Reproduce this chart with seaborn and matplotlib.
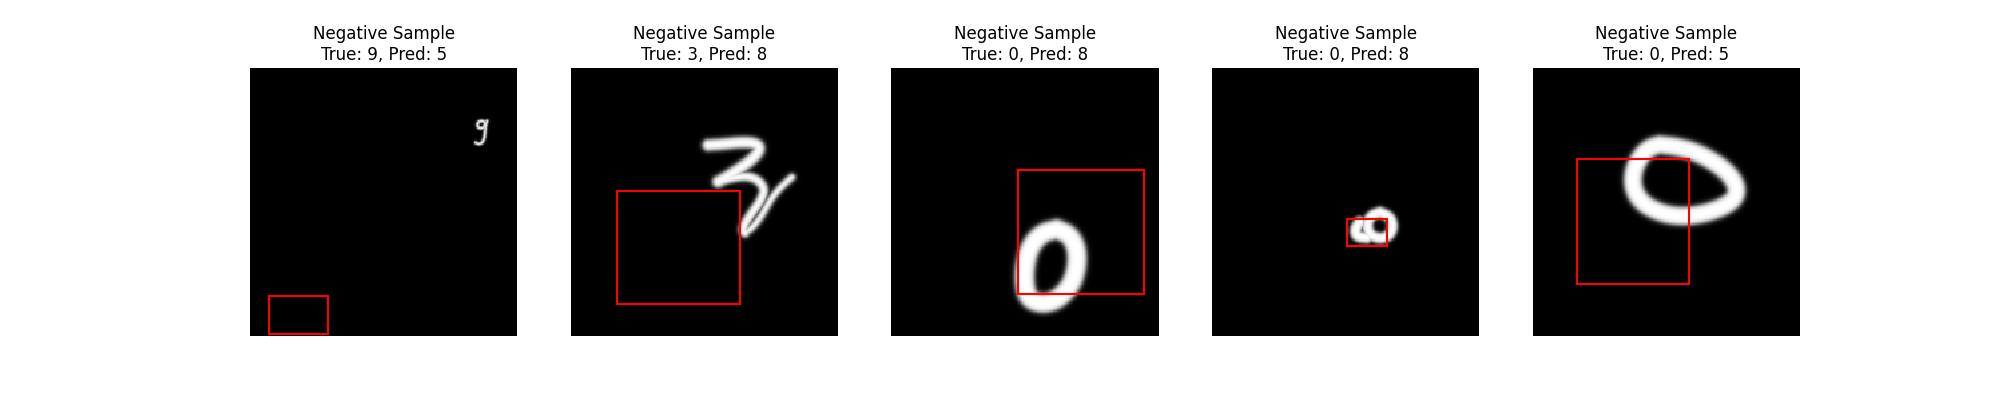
import numpy as np
import matplotlib
matplotlib.use("Agg")
import matplotlib.pyplot as plt
import matplotlib.patches as patches
import seaborn as sns

n = 200

trues = [9, 3, 0, 0, 0]
preds = [5, 8, 8, 8, 5]

# red boxes, x, y, w, h in image pixels
boxes = [
    [14, 170, 44, 29],
    [35, 92, 92, 84],
    [95, 76, 94, 93],
    [101, 113, 30, 20],
    [33, 68, 84, 93],
]

# digit strokes, centre line points in image pixels
nine_loop = [(176, 41.5), (175, 39.8), (173, 39.4), (171, 40.2), (170.2, 42.3),
             (171, 44.2), (173, 44.8), (175.2, 43.8), (176, 41.5)]
nine_tail = [(177.3, 39.5), (176.2, 43), (175.8, 48), (175.2, 52.5), (173.5, 55.8),
             (171, 56.6), (169, 55.5)]

three_top = [(103, 57.3), (114.2, 56.6), (126.7, 55.1), (138, 55.6), (142.2, 59.8),
             (136.7, 67.3), (126.7, 74.8), (116.8, 81.1), (110.5, 84.8)]
three_mid = [(110.5, 84.8), (121.7, 81.5), (132.9, 80.5), (141, 84), (145.4, 91),
             (141.7, 99.8), (136.2, 107.3), (131.2, 114.7), (128.7, 121), (130.5, 123)]
three_tail = [(128.7, 121), (130.5, 123), (135.5, 119.7), (141.7, 112.2), (146.7, 103.5),
              (150.4, 97.2), (155.4, 91), (160.4, 86), (165.4, 81.5)]

zero_a = [(123.7, 120.4), (133.7, 124.7), (139.2, 135.9), (138.7, 150.9), (133.7, 163.4),
          (123.7, 173.4), (112.5, 176.3), (102.5, 172.1), (99.5, 160.9), (100, 147.2),
          (103.7, 133.5), (112.5, 123.4), (123.7, 120.4)]

zero_b_ring = [(125.7, 107.7), (133.2, 111), (135.7, 118.5), (132.7, 125.2), (125.7, 127.7),
               (118.3, 124.7), (115.8, 117.2), (118.8, 110.3), (125.7, 107.7)]
zero_b_blob = [(110.3, 115.2), (107, 121), (108.8, 126), (115.8, 126.7)]

zero_c = [(95, 57), (108, 58.5), (122, 62.5), (136, 70), (147, 79), (153, 89), (151, 98),
          (140, 105), (125, 109.5), (110, 111), (95, 108), (82, 101), (75, 90), (75, 77),
          (81, 65), (88, 59), (95, 57)]

digits = [
    [(nine_loop, 1.1, 0.45), (nine_tail, 1.1, 0.45)],
    [(three_top, 4.3, 1.0), (three_mid, 3.4, 0.9), (three_tail, 2.6, 0.9)],
    [(zero_a, 7.3, 1.1)],
    [(zero_b_ring, 4.0, 0.8), (zero_b_blob, 4.2, 0.8)],
    [(zero_c, 6.8, 1.1)],
]


def smooth(pts, k=3):
    pts = np.asarray(pts, float)
    for _ in range(k):
        q = 0.75 * pts[:-1] + 0.25 * pts[1:]
        r = 0.25 * pts[:-1] + 0.75 * pts[1:]
        new = np.empty((2 * len(q), 2))
        new[0::2] = q
        new[1::2] = r
        pts = np.vstack([pts[:1], new, pts[-1:]])
    return pts


def seg_dist(px, py, a, b):
    dx, dy = b[0] - a[0], b[1] - a[1]
    l2 = dx * dx + dy * dy
    if l2 == 0:
        return np.hypot(px - a[0], py - a[1])
    t = np.clip(((px - a[0]) * dx + (py - a[1]) * dy) / l2, 0, 1)
    return np.hypot(px - a[0] - t * dx, py - a[1] - t * dy)


def draw(strokes):
    yy, xx = np.mgrid[0:n, 0:n] + 0.5
    img = np.zeros((n, n))
    for pts, hw, soft in strokes:
        pts = smooth(pts)
        d = np.full((n, n), np.inf)
        for a, b in zip(pts[:-1], pts[1:]):
            d = np.minimum(d, seg_dist(xx, yy, a, b))
        img = np.maximum(img, 1 / (1 + np.exp((d - hw) / soft)))
    return img


fig, axes = plt.subplots(1, 5, figsize=(20, 4))
for i, ax in enumerate(axes):
    img = draw(digits[i])
    sns.heatmap(img, cmap="gray", vmin=0, vmax=1, cbar=False, square=True,
                xticklabels=False, yticklabels=False, ax=ax)
    x, y, w, h = boxes[i]
    ax.add_patch(patches.Rectangle((x, y), w, h, fill=False, edgecolor="red", linewidth=1.5))
    ax.set_title(f"Negative Sample\nTrue: {trues[i]}, Pred: {preds[i]}")
    ax.axis("off")

plt.savefig("out.png", dpi=100)
